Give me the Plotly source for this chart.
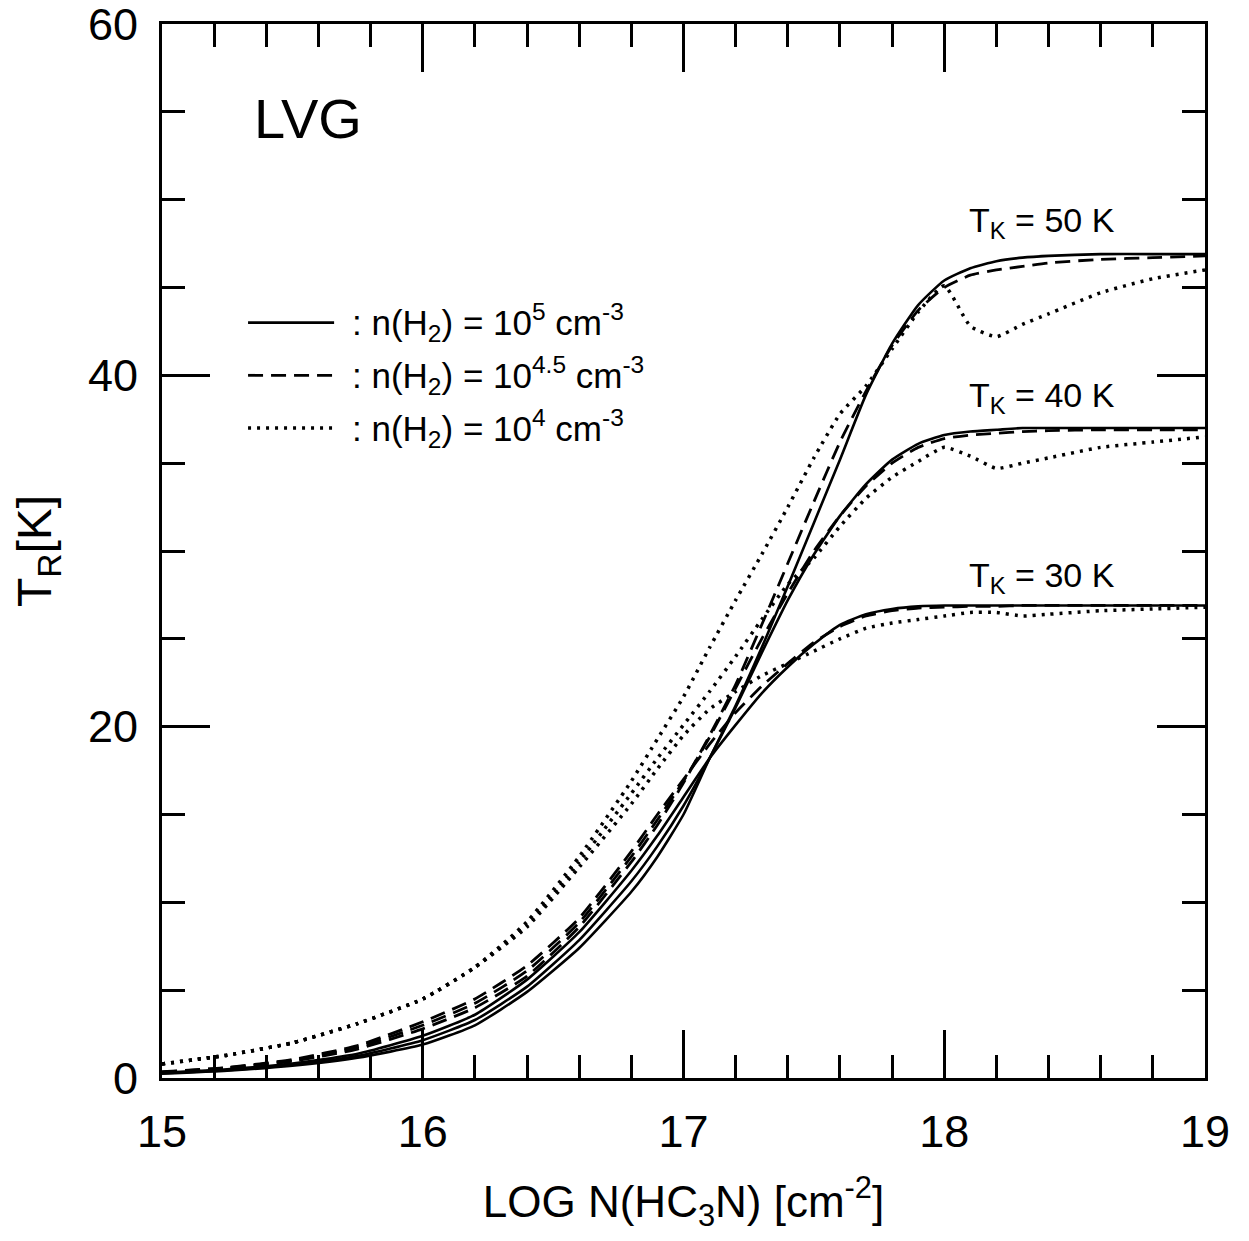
import plotly.graph_objects as go

# ---- data ----
log_n = [15.0, 15.25, 15.5, 15.75, 16.0, 16.2, 16.4, 16.6, 16.8, 16.9, 17.0, 17.1, 17.2, 17.3,
         17.4, 17.5, 17.6, 17.7, 17.8, 17.9, 18.0, 18.1, 18.2, 18.3, 18.4, 18.6, 18.8, 19.0]

# n(H2) = 1e5 (solid)
solid_50 = [0.25, 0.42, 0.7, 1.15, 1.9, 3.0, 4.9, 7.4, 10.6, 12.6, 15.0, 18.2, 21.2, 24.5,
            28.0, 31.6, 35.2, 38.9, 41.8, 44.0, 45.4, 46.1, 46.5, 46.7, 46.8, 46.9, 46.9, 46.9]
solid_40 = [0.27, 0.45, 0.75, 1.25, 2.15, 3.3, 5.2, 7.85, 11.2, 13.2, 15.5, 18.2, 21.1, 24.2,
            27.2, 29.8, 32.0, 33.8, 35.2, 36.1, 36.6, 36.8, 36.9, 37.0, 37.0, 37.0, 37.0, 37.0]
solid_30 = [0.3, 0.5, 0.82, 1.38, 2.4, 3.6, 5.6, 8.3, 11.8, 13.8, 16.0, 18.2, 20.1, 21.9,
            23.4, 24.7, 25.8, 26.4, 26.7, 26.85, 26.9, 26.9, 26.9, 26.9, 26.9, 26.9, 26.9, 26.9]

# n(H2) = 10^4.5 (dashed)
dashed_50 = [0.32, 0.55, 0.95, 1.65, 2.8, 4.0, 5.8, 8.6, 12.3, 14.4, 16.8, 19.5, 22.4, 25.8,
             29.3, 32.8, 36.2, 39.1, 41.7, 43.7, 45.0, 45.7, 46.0, 46.2, 46.4, 46.6, 46.7, 46.8]
dashed_40 = [0.34, 0.58, 1.0, 1.75, 3.0, 4.25, 6.1, 8.85, 12.6, 14.7, 16.9, 19.4, 22.2, 25.0,
             27.6, 30.0, 32.0, 33.7, 35.0, 35.9, 36.4, 36.6, 36.7, 36.8, 36.85, 36.9, 36.9, 36.9]
dashed_30 = [0.36, 0.6, 1.05, 1.85, 3.2, 4.5, 6.4, 9.1, 12.9, 15.0, 17.0, 19.0, 20.8, 22.3,
             23.6, 24.8, 25.7, 26.3, 26.6, 26.75, 26.8, 26.85, 26.85, 26.9, 26.9, 26.9, 26.9, 26.9]

# n(H2) = 1e4 (dotted)
dotted_50 = [0.8, 1.3, 2.0, 3.1, 4.5, 6.3, 8.9, 12.6, 16.9, 19.3, 21.7, 24.5, 27.2, 29.8,
             32.5, 35.3, 37.8, 39.4, 41.5, 43.6, 45.1, 42.8, 42.2, 42.9, 43.5, 44.7, 45.5, 46.0]
dotted_40 = [0.8, 1.3, 2.0, 3.1, 4.5, 6.3, 8.7, 12.3, 16.2, 18.2, 20.1, 22.0, 24.0, 26.1,
             28.1, 29.6, 31.4, 33.0, 34.2, 35.1, 35.9, 35.4, 34.7, 35.0, 35.3, 35.9, 36.2, 36.5]
dotted_30 = [0.8, 1.3, 2.0, 3.1, 4.5, 6.3, 8.6, 12.0, 15.6, 17.6, 19.5, 21.0, 22.0, 22.9,
             23.6, 24.3, 25.0, 25.6, 25.9, 26.1, 26.3, 26.5, 26.5, 26.3, 26.4, 26.6, 26.7, 26.8]

series = [
    ("solid", [solid_30, solid_40, solid_50]),
    ("dash", [dashed_30, dashed_40, dashed_50]),
    ("dot", [dotted_30, dotted_40, dotted_50]),
]

legend_texts = [
    ": n(H<sub>2</sub>) = 10<sup>5</sup> cm<sup>-3</sup>",
    ": n(H<sub>2</sub>) = 10<sup>4.5</sup> cm<sup>-3</sup>",
    ": n(H<sub>2</sub>) = 10<sup>4</sup> cm<sup>-3</sup>",
]
legend_y = [43.0, 40.0, 37.0]
tk_labels = ["T<sub>K</sub> = 50 K", "T<sub>K</sub> = 40 K", "T<sub>K</sub> = 30 K"]
tk_y = [48.7, 38.75, 28.5]

# ---- styles ----
FONT = "Liberation Sans, Arial, Helvetica, sans-serif"
dash_map = {"solid": "solid", "dash": "15px,8px", "dot": "3px,6px"}
width_map = {"solid": 2.6, "dash": 2.8, "dot": 3.5}

fig = go.Figure()
for style, curves in series:
    for ys in curves:
        fig.add_trace(go.Scatter(
            x=log_n, y=ys, mode="lines",
            line=dict(color="black", width=width_map[style], dash=dash_map[style],
                      shape="spline", smoothing=0.5),
            showlegend=False, hoverinfo="skip"))

# legend samples
for (style, _), ly, txt in zip(series, legend_y, legend_texts):
    fig.add_shape(type="line", xref="x", yref="y", x0=15.33, x1=15.66, y0=ly, y1=ly,
                  line=dict(color="black", width=width_map[style], dash=dash_map[style]))
    fig.add_annotation(x=15.72, y=ly, xref="x", yref="y", text=txt, showarrow=False,
                       xanchor="left", yanchor="middle",
                       font=dict(family=FONT, size=35, color="black"))

for t, ty in zip(tk_labels, tk_y):
    fig.add_annotation(x=18.375, y=ty, xref="x", yref="y", text=t, showarrow=False,
                       xanchor="center", yanchor="middle",
                       font=dict(family=FONT, size=34, color="black"))

fig.add_annotation(x=15.56, y=54.6, xref="x", yref="y", text="LVG", showarrow=False,
                   xanchor="center", yanchor="middle",
                   font=dict(family=FONT, size=56, color="black"))

axis_common = dict(showline=True, linecolor="black", linewidth=3, mirror="ticks",
                   ticks="inside", ticklen=48, tickwidth=2.5, tickcolor="black",
                   showgrid=False, zeroline=False, ticklabeloverflow="allow",
                   tickfont=dict(family=FONT, size=45, color="black"))

fig.update_xaxes(range=[15, 19], dtick=1, tick0=15,
                 minor=dict(ticks="inside", ticklen=23, tickwidth=2.5, tickcolor="black",
                            dtick=0.2, showgrid=False),
                 ticklabelstandoff=12,
                 title=dict(text="LOG N(HC<sub>3</sub>N) [cm<sup>-2</sup>]",
                            font=dict(family=FONT, size=44, color="black"), standoff=42),
                 **axis_common)
fig.update_yaxes(range=[0, 60], dtick=20, tick0=0,
                 minor=dict(ticks="inside", ticklen=23, tickwidth=2.5, tickcolor="black",
                            dtick=5, showgrid=False),
                 ticklabelstandoff=12,
                 title=dict(text="T<sub>R</sub>[K]",
                            font=dict(family=FONT, size=48, color="black"), standoff=32),
                 **axis_common)

# the page adds an 8px body margin; compensate so the plot area lands where the reference has it
fig.update_layout(width=1233, height=1225,
                  margin=dict(l=154, r=36, t=16, b=155, autoexpand=False),
                  paper_bgcolor="white", plot_bgcolor="white",
                  showlegend=False)

fig.write_html("out.html")
